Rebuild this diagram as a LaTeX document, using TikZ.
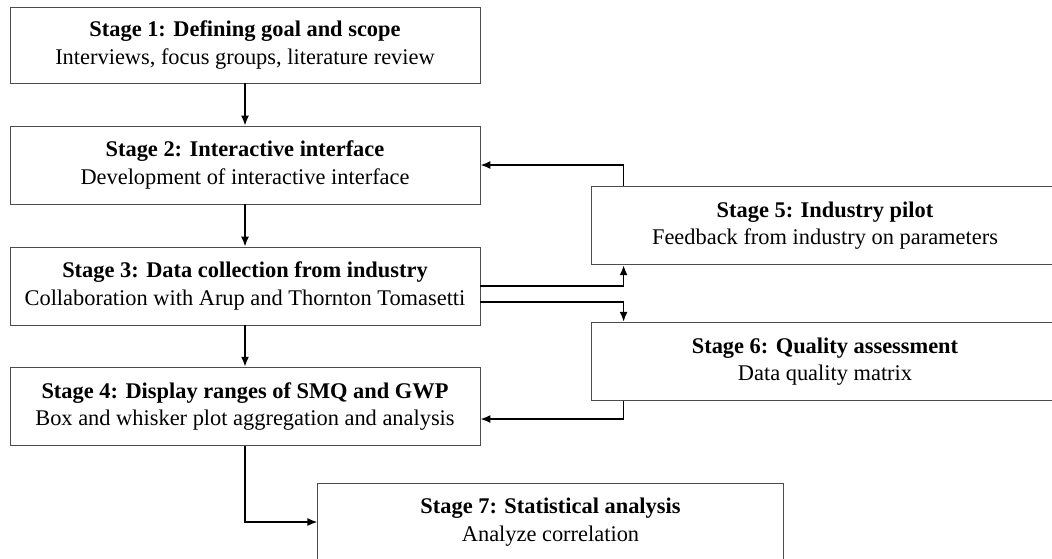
\documentclass[tikz,border=0pt]{standalone}
\usepackage{fontspec}
\setmainfont{Liberation Serif}
\usepackage{tikz}
\usetikzlibrary{calc, arrows.meta, positioning}

\tikzset{
  stagebox/.style={draw=black!70, line width=0.6pt, align=center,
    inner sep=0pt, font=\fontsize{16.8}{20.5}\selectfont},
  flow/.style={-{Latex[length=7.5pt,width=6pt]}, line width=1.2pt}
}

\begin{document}
\begin{tikzpicture}[x=0.75pt, y=-0.75pt]

    % =================================================================
    % 1. KHUNG HÌNH
    % =================================================================
    \useasboundingbox (0,0) rectangle (1052,558);
    \clip (0,0) rectangle (1052,558);

    % =================================================================
    % 2. CÁC KHỐI GIAI ĐOẠN
    % =================================================================
    % Cột bên trái
    \node[stagebox, minimum width=352.5pt, minimum height=57pt] (S1) at (245,45)
        {\textbf{Stage 1: Defining goal and scope}\\Interviews, focus groups, literature review};
    \node[stagebox, minimum width=352.5pt, minimum height=58.5pt] (S2) at (245,165)
        {\textbf{Stage 2: Interactive interface}\\Development of interactive interface};
    \node[stagebox, minimum width=352.5pt, minimum height=58.5pt] (S3) at (245,286)
        {\textbf{Stage 3: Data collection from industry}\\Collaboration with Arup and Thornton Tomasetti};
    \node[stagebox, minimum width=352.5pt, minimum height=59pt] (S4) at (245,406.5)
        {\textbf{Stage 4: Display ranges of SMQ and GWP}\\Box and whisker plot aggregation and analysis};

    % Cột bên phải (khung bị cắt ở mép ảnh)
    \node[stagebox, minimum width=351pt, minimum height=59pt] (S5) at (825,225.5)
        {\textbf{Stage 5: Industry pilot}\\Feedback from industry on parameters};
    \node[stagebox, minimum width=351pt, minimum height=59pt] (S6) at (825,361.5)
        {\textbf{Stage 6: Quality assessment}\\Data quality matrix};

    % Khối cuối
    \node[stagebox, minimum width=349pt, minimum height=58.5pt] (S7) at (550.5,522)
        {\textbf{Stage 7: Statistical analysis}\\Analyze correlation};

    % =================================================================
    % 3. CÁC MŨI TÊN
    % =================================================================
    \coordinate (R5) at ($(S5.north west)+(33,0)$);
    \coordinate (B5) at ($(S5.south west)+(33,0)$);
    \coordinate (T6) at ($(S6.north west)+(33,0)$);
    \coordinate (D6) at ($(S6.south west)+(33,0)$);

    \draw[flow] (S1) -- (S2);
    \draw[flow] (S2) -- (S3);
    \draw[flow] (S3) -- (S4);

    % Vòng phản hồi
    \draw[flow] (R5) |- (S2.east);
    \draw[flow] (S3.east) -| (B5);
    \draw[flow] ($(S3.east)+(0,16)$) -| (T6);
    \draw[flow] (D6) |- ($(S4.east)+(0,12.5)$);

    % Xuống giai đoạn 7
    \draw[flow] (S4.south) |- (S7.west);

\end{tikzpicture}
\end{document}
